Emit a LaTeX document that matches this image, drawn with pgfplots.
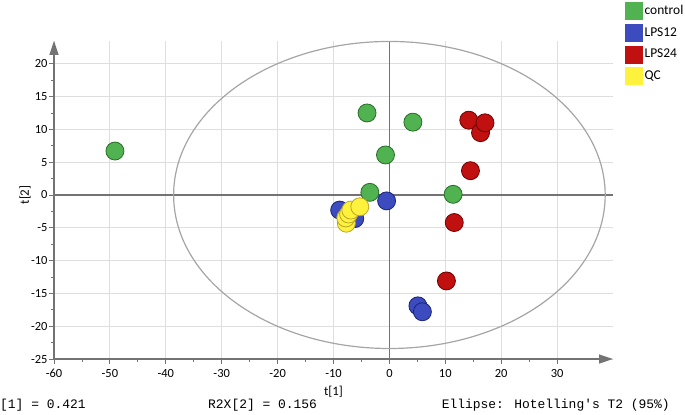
\documentclass[border=0pt]{standalone}
\usepackage{fontspec}
\setmainfont{Carlito}
\newfontfamily\monofont{Liberation Mono}
\usepackage{pgfplots}
\pgfplotsset{compat=1.18}
\usetikzlibrary{arrows.meta}

\definecolor{gfill}{RGB}{80,178,80}
\definecolor{gline}{RGB}{40,110,40}
\definecolor{bfill}{RGB}{60,75,190}
\definecolor{bline}{RGB}{25,35,120}
\definecolor{rfill}{RGB}{192,16,16}
\definecolor{rline}{RGB}{110,0,0}
\definecolor{yfill}{RGB}{255,242,60}
\definecolor{yline}{RGB}{185,165,40}
\definecolor{axgray}{RGB}{115,115,115}
\definecolor{gridgray}{RGB}{222,222,222}
\definecolor{ellgray}{RGB}{165,165,165}

\begin{document}
\begin{tikzpicture}[x=1bp,y=1bp]
\useasboundingbox (0,0) rectangle (685,414);
\begin{axis}[
  at={(54bp,55bp)}, anchor=south west,
  scale only axis, width=559bp, height=318.2bp,
  xmin=-60, xmax=40, ymin=-25, ymax=23.5,
  axis lines=left,
  axis line style={axgray, line width=1.2bp, -{Triangle[length=14bp,width=9bp]}},
  xtick={-60,-50,...,30}, ytick={-25,-20,...,20},
  minor x tick num=1, minor y tick num=1,
  tick align=outside, major tick length=5bp, minor tick length=3bp,
  tick style={axgray, line width=0.9bp},
  grid=major, major grid style={gridgray, line width=0.9bp},
  extra x ticks={0}, extra y ticks={0},
  extra x tick labels={}, extra y tick labels={},
  extra tick style={major grid style={axgray, line width=1.2bp}},
  /pgf/number format/assume math mode=true,
  ticklabel style={font=\fontsize{12.5}{14}\selectfont},
  xticklabel style={yshift=-2bp},
  yticklabel style={xshift=2bp},
  xlabel={t[1]}, ylabel={t[2]},
  xlabel style={at={(axis description cs:0.5,0)}, anchor=center, yshift=-33bp, font=\fontsize{13}{15}\selectfont},
  ylabel style={at={(axis description cs:0,0.5)}, anchor=center, yshift=29bp, xshift=5bp, font=\fontsize{13}{15}\selectfont},
  legend style={at={(axis description cs:1.0215,1.122)}, anchor=north west,
    draw=none, fill=none, inner sep=0pt, row sep=4.3bp, column sep=2bp,
    nodes={inner sep=0pt}, font=\fontsize{13.5}{15}\selectfont},
  legend cell align=left,
]
\draw[ellgray, line width=1.2bp] (axis cs:0,0) ellipse [x radius=38.6, y radius=23.4];

% control
\addplot[only marks, mark=*, mark size=9bp,
  mark options={fill=gfill, draw=gline, line width=0.8bp},
  legend image code/.code={\fill[gfill] (0bp,-8.5bp) rectangle (17bp,8.5bp);}]
  coordinates {(-49.1,6.7)(-4.0,12.5)(4.2,11.1)(-0.7,6.1)(-3.5,0.4)(11.4,0.1)};
\addlegendentry{control}

% LPS12
\addplot[only marks, mark=*, mark size=9bp,
  mark options={fill=bfill, draw=bline, line width=0.8bp},
  legend image code/.code={\fill[bfill] (0bp,-8.5bp) rectangle (17bp,8.5bp);}]
  coordinates {(-0.5,-0.9)(5.1,-16.9)(5.9,-17.8)(-8.9,-2.3)(-6.2,-3.6)};
\addlegendentry{LPS12}

% LPS24
\addplot[only marks, mark=*, mark size=9bp,
  mark options={fill=rfill, draw=rline, line width=0.8bp},
  legend image code/.code={\fill[rfill] (0bp,-8.5bp) rectangle (17bp,8.5bp);}]
  coordinates {(14.2,11.4)(16.3,9.5)(17.1,11.0)(14.5,3.7)(11.6,-4.2)(10.2,-13.1)};
\addlegendentry{LPS24}

% QC
\addplot[only marks, mark=*, mark size=9bp,
  mark options={fill=yfill, draw=yline, line width=0.8bp},
  legend image code/.code={\fill[yfill] (0bp,-8.5bp) rectangle (17bp,8.5bp);}]
  coordinates {(-7.7,-4.3)(-7.8,-3.5)(-7.3,-2.9)(-6.9,-2.3)(-5.3,-1.8)};
\addlegendentry{QC}
\end{axis}

\node[anchor=west, inner sep=0pt, font=\monofont\fontsize{13}{15}\selectfont] at (0,9) {[1] = 0.421};
\node[anchor=west, inner sep=0pt, font=\monofont\fontsize{13}{15}\selectfont] at (208,9) {R2X[2] = 0.156};
\node[anchor=east, inner sep=0pt, font=\monofont\fontsize{13}{15}\selectfont] at (670,9) {Ellipse: Hotelling's T2 (95\%)};
\end{tikzpicture}
\end{document}
